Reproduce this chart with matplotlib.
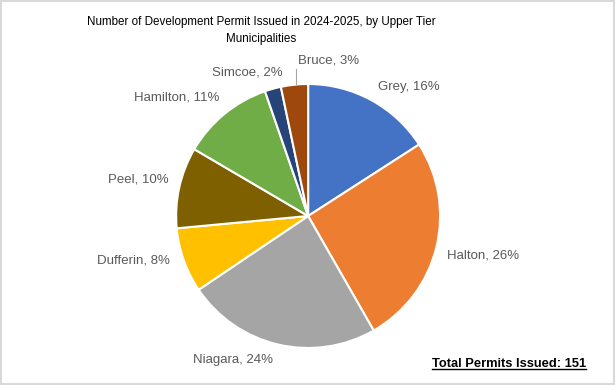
"""
Development permits issued 2024-2025 by upper tier municipality, pie chart.
"""
import numpy as np
import matplotlib.pyplot as plt
from matplotlib.lines import Line2D
from matplotlib.patches import Rectangle

plt.rcParams['font.family'] = ['Liberation Sans', 'DejaVu Sans']

# data (counts read from the percentages, total 151) #
municipalities = ["Grey", "Halton", "Niagara", "Dufferin", "Peel", "Hamilton", "Simcoe", "Bruce"]
permits = [24, 39, 36, 12, 15, 17, 3, 5]
colors = ["#4472C4", "#ED7D31", "#A5A5A5", "#FFC000", "#7F6000", "#70AD47", "#264478", "#9E480E"]

total = sum(permits)
pcts = [round(100 * p / total) for p in permits]

# where each data label sits (axes data units, pie radius = 1), like Excel's "best fit"
label_anchor = {
    "Grey": (0.53, 0.98, 'left'),
    "Halton": (1.05, -0.30, 'left'),
    "Niagara": (-0.57, -1.09, 'center'),
    "Dufferin": (-1.045, -0.34, 'right'),
    "Peel": (-1.06, 0.28, 'right'),
    "Hamilton": (-0.67, 0.90, 'right'),
    "Simcoe": (-0.19, 1.09, 'right'),
    "Bruce": (-0.08, 1.18, 'left'),
}

fig = plt.figure(figsize=(6.15, 3.85), dpi=100)
ax = fig.add_axes([0.501 - 0.2146, 0.439 - 0.343, 0.4292, 0.686])

wedges, _ = ax.pie(
    permits, colors=colors, startangle=90, counterclock=False,
    wedgeprops=dict(edgecolor='white', linewidth=1.5)
)
ax.set_aspect('equal')
ax.set_xlim(-1, 1)
ax.set_ylim(-1, 1)

lab_col = '#595959'
for w, name, pct in zip(wedges, municipalities, pcts):
    lx, ly, ha = label_anchor[name]
    ax.text(lx, ly, f"{name}, {pct}%", ha=ha, va='center', fontsize=9.5, color=lab_col)
    if name == "Bruce":
        # leader line from the small wedge up to its label
        mid = np.deg2rad((w.theta1 + w.theta2) / 2)
        ax.plot([np.cos(mid) + 0.015, np.cos(mid) + 0.015], [1.0, 1.11], color='#A6A6A6', lw=0.8,
                clip_on=False)

fig.text(0.425, 0.921, "Number of Development Permit Issued in 2024-2025, by Upper Tier\nMunicipalities",
         ha='center', va='center', fontsize=8.4, color='black', linespacing=1.6)

tot = fig.text(0.828, 0.054, f"Total Permits Issued: {total}", ha='center', va='center',
               fontsize=9.3, fontweight='bold', color='black')
fig.canvas.draw()
bb = tot.get_window_extent().transformed(fig.transFigure.inverted())
fig.add_artist(Line2D([bb.x0, bb.x1], [bb.y0 + 0.002, bb.y0 + 0.002], color='black', lw=1.0,
                      transform=fig.transFigure))

# light border round the chart area
fig.add_artist(Rectangle((0.002, 0.003), 0.996, 0.994, transform=fig.transFigure,
                         fill=False, edgecolor='#D9D9D9', lw=1.5))

fig.savefig("out.png", dpi=100)
